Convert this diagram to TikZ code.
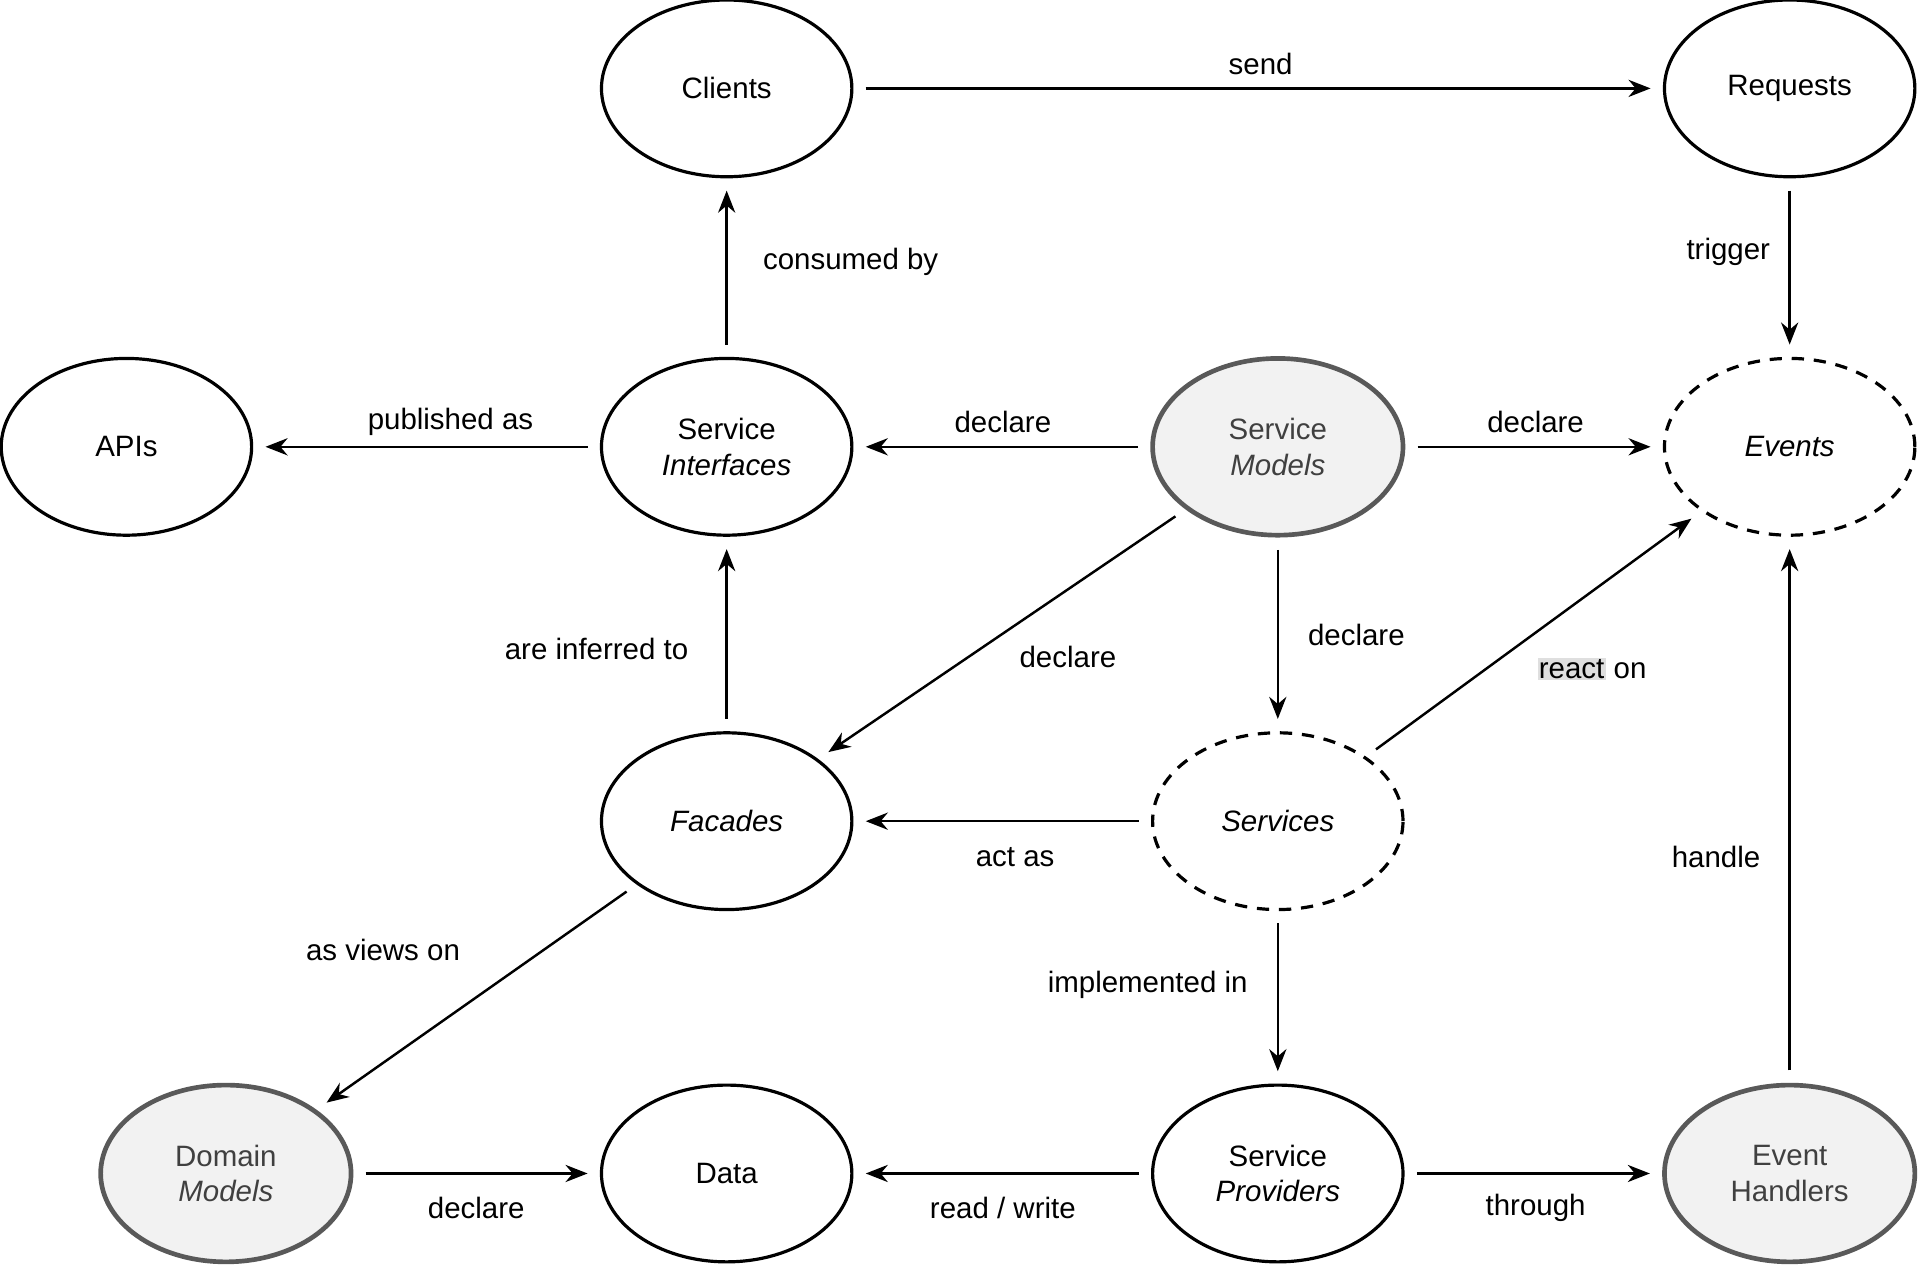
\documentclass[tikz,border=0pt]{standalone}
\usepackage{fontspec}
\setmainfont{Liberation Sans}
\usetikzlibrary{shapes.geometric,arrows.meta}
\begin{document}
\begin{tikzpicture}[x=0.5pt,y=-0.5pt,
  every node/.style={font=\fontsize{12}{14.5}\selectfont},
  el/.style={ellipse,draw,line width=1.3pt,minimum width=102pt,minimum height=72pt,align=center,inner sep=0pt},
  gel/.style={el,fill=gray!10,draw=gray!70!black,line width=1.9pt,text=black!75},
  del/.style={el,dashed,dash pattern=on 5pt off 4pt},
  arr/.style={-{Stealth[length=9pt,width=7pt]},line width=1pt,shorten >=5pt,shorten <=5pt}]
\useasboundingbox (0,0) rectangle (1565,1034);
\node[el] (cl) at (592,72) {Clients};
\node[el] (rq) at (1458,72) {Requests};
\node[el] (api) at (103,364) {APIs};
\node[el] (si) at (592,364) {Service\\\textit{Interfaces}};
\node[gel] (sm) at (1041,364) {Service\\\textit{Models}};
\node[del] (ev) at (1458,364) {\textit{Events}};
\node[el] (fa) at (592,669) {\textit{Facades}};
\node[del] (sv) at (1041,669) {\textit{Services}};
\node[gel] (dm) at (184,956) {Domain\\\textit{Models}};
\node[el] (da) at (592,956) {Data};
\node[el] (sp) at (1041,956) {Service\\\textit{Providers}};
\node[gel] (eh) at (1458,956) {Event\\Handlers};

\draw[arr] (cl) -- (rq);
\node at (1027,52) {send};
\draw[arr] (rq) -- (ev);
\node at (1408,205) {trigger};
\draw[arr] (si) -- (cl);
\node at (693,213) {consumed by};
\draw[arr] (si) -- (api);
\node at (367,344) {published as};
\draw[arr] (sm) -- (si);
\node at (817,344) {declare};
\draw[arr] (sm) -- (ev);
\node at (1251,344) {declare};
\draw[arr] (sm) -- (fa);
\node at (870,535) {declare};
\draw[arr] (sm) -- (sv);
\node at (1105,517) {declare};
\draw[arr] (sv) -- (ev);
\node at (1297,545) {{\setlength{\fboxsep}{0.5pt}\colorbox{gray!25}{react}} on};
\draw[arr] (eh) -- (ev);
\node at (1398,698) {handle};
\draw[arr] (fa) -- (si);
\node at (486,529) {are inferred to};
\draw[arr] (sv) -- (fa);
\node at (827,698) {act as};
\draw[arr] (fa) -- (dm);
\node at (312,774) {as views on};
\draw[arr] (sv) -- (sp);
\node at (935,802) {implemented in};
\draw[arr] (dm) -- (da);
\node at (388,984) {declare};
\draw[arr] (sp) -- (da);
\node at (817,984) {read / write};
\draw[arr] (sp) -- (eh);
\node at (1251,984) {through};
\end{tikzpicture}
\end{document}
